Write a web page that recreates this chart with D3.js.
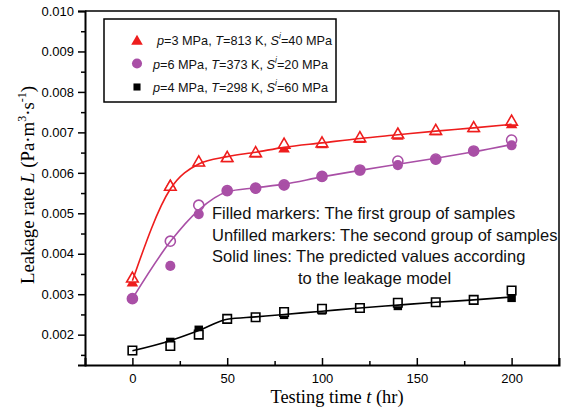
<!DOCTYPE html>
<html>
<head>
<meta charset="utf-8">
<script src="https://cdn.jsdelivr.net/npm/d3@7"></script>
<style>
  body { margin: 0; background: #fff; }
  svg { display: block; }
</style>
</head>
<body>
<svg id="chart" width="568" height="413"></svg>
<script>
// testing times (hr)
const times = [0, 20, 35, 50, 65, 80, 100, 120, 140, 160, 180, 200];

// p=3 MPa, T=813 K
const redFilled   = [0.00331, 0.00572, 0.00628, 0.00638, 0.00650, 0.00662, 0.00673, 0.00686, 0.00694, 0.00705, 0.00712, 0.00722];
const redUnfilled = [0.00342, 0.00569, 0.00629, 0.00640, 0.00652, 0.00673, 0.00676, 0.00689, 0.00698, 0.00707, 0.00714, 0.00730];
const redModel    = [0.00333, 0.00560, 0.00622, 0.00640, 0.00651, 0.00663, 0.00674, 0.00685, 0.00694, 0.00703, 0.00711, 0.00720];

// p=6 MPa, T=373 K
const purpleFilled   = [0.00289, 0.00370, 0.00498, 0.00555, 0.00561, 0.00569, 0.00590, 0.00606, 0.00619, 0.00633, 0.00653, 0.00668];
const purpleUnfilled = [0.00289, 0.00431, 0.00520, 0.00556, 0.00562, 0.00570, 0.00591, 0.00607, 0.00629, 0.00634, 0.00654, 0.00681];
const purpleModel    = [0.00289, 0.00430, 0.00508, 0.00553, 0.00563, 0.00572, 0.00590, 0.00606, 0.00621, 0.00636, 0.00652, 0.00670];

// p=4 MPa, T=298 K
const blackFilled   = [0.00160, 0.00182, 0.00212, 0.00239, 0.00243, 0.00249, 0.00260, 0.00266, 0.00271, 0.00280, 0.00286, 0.00291];
const blackUnfilled = [0.00161, 0.00172, 0.00200, 0.00239, 0.00243, 0.00256, 0.00264, 0.00266, 0.00279, 0.00280, 0.00286, 0.00309];
const blackModel    = [0.00160, 0.00185, 0.00210, 0.00238, 0.00244, 0.00250, 0.00258, 0.00266, 0.00273, 0.00280, 0.00286, 0.00293];

const xMajor = [0, 50, 100, 150, 200];
const xMinor = [25, 75, 125, 175];
const yMajor = [0.002, 0.003, 0.004, 0.005, 0.006, 0.007, 0.008, 0.009, 0.010];
const yMinor = [0.0015, 0.0025, 0.0035, 0.0045, 0.0055, 0.0065, 0.0075, 0.0085, 0.0095];

const legendLabels = [
    {p: "3", T: "813", S: "40"},
    {p: "6", T: "373", S: "20"},
    {p: "4", T: "298", S: "60"}
];
const notes = [
    "Filled markers: The first group of samples",
    "Unfilled markers: The second group of samples",
    "Solid lines: The predicted values according",
    "to the leakage model"
];

const series = [
    {color: "#ee1d1d", shape: d3.symbolTriangle, size: 58, filled: redFilled, unfilled: redUnfilled, model: redModel, filledOnTop: false},
    {color: "#a94fa6", shape: d3.symbolCircle, size: 80, filled: purpleFilled, unfilled: purpleUnfilled, model: purpleModel, filledOnTop: true},
    {color: "#000000", shape: d3.symbolSquare, size: 72, filled: blackFilled, unfilled: blackUnfilled, model: blackModel, filledOnTop: false}
];

const margin = {top: 11, right: 9, bottom: 48, left: 85};
const width = 568, height = 413;

const svg = d3.select("#chart");

const x = d3.scaleLinear()
    .domain([-25, 225])
    .range([margin.left, width - margin.right]);
const y = d3.scaleLinear()
    .domain([0.00125, 0.010])
    .range([height - margin.bottom, margin.top]);

const sans = "Liberation Sans, Arial, sans-serif";
const serif = "Liberation Serif, Times New Roman, serif";

// frame top/right
svg.append("path")
    .attr("d", `M${x(-25)},${y(0.010)}H${x(225)}V${y(0.00125)}`)
    .attr("fill", "none")
    .attr("stroke", "#000")
    .attr("stroke-width", 1.5);

// X axis (ticks inward)
const xAxisG = svg.append("g")
    .attr("transform", `translate(0,${y(0.00125)})`);
xAxisG.append("g")
    .call(d3.axisBottom(x).tickValues(xMinor).tickSize(-4).tickFormat(""))
    .call(g => g.select(".domain").remove());
xAxisG.append("g")
    .call(d3.axisBottom(x).tickValues(xMajor).tickSize(-7).tickPadding(9).tickFormat(d3.format("d")))
    .call(g => g.select(".domain").attr("stroke-width", 2));
xAxisG.selectAll("line").attr("stroke-width", 1.5);
xAxisG.selectAll("text").attr("font-family", sans).attr("font-size", 13).attr("fill", "#000");

// Y axis (ticks outward)
const yAxisG = svg.append("g")
    .attr("transform", `translate(${x(-25)},0)`);
yAxisG.append("g")
    .call(d3.axisLeft(y).tickValues(yMinor).tickSize(4).tickFormat(""))
    .call(g => g.select(".domain").remove());
yAxisG.append("g")
    .call(d3.axisLeft(y).tickValues(yMajor).tickSize(7).tickPadding(4).tickFormat(d3.format(".3f")))
    .call(g => g.select(".domain").attr("stroke-width", 2));
yAxisG.selectAll("line").attr("stroke-width", 1.5);
yAxisG.selectAll("text").attr("font-family", sans).attr("font-size", 13).attr("fill", "#000");

// axis titles
const xTitle = svg.append("text")
    .attr("x", 337)
    .attr("y", 403)
    .attr("text-anchor", "middle")
    .attr("font-family", serif)
    .attr("font-size", 18.4);
xTitle.append("tspan").text("Testing time ");
xTitle.append("tspan").attr("font-style", "italic").text("t");
xTitle.append("tspan").text(" (hr)");

const yTitle = svg.append("text")
    .attr("transform", "translate(34,185) rotate(-90)")
    .attr("text-anchor", "middle")
    .attr("font-family", serif)
    .attr("font-size", 18.8);
yTitle.append("tspan").text("Leakage rate ");
yTitle.append("tspan").attr("font-style", "italic").text("L");
yTitle.append("tspan").text(" (Pa\u00b7m");
yTitle.append("tspan").attr("font-size", 12).attr("dy", -8).text("3");
yTitle.append("tspan").attr("dy", 8).text("\u00b7s");
yTitle.append("tspan").attr("font-size", 12).attr("dy", -8).text("-1");
yTitle.append("tspan").attr("dy", 8).text(")");

// markers and model lines
const line = d3.line()
    .x((d, i) => x(times[i]))
    .y(d => y(d))
    .curve(d3.curveMonotoneX);

function drawMarkers(s, values, hollow) {
    const sym = d3.symbol().type(s.shape).size(s.size);
    const triShift = s.shape === d3.symbolTriangle ? 1.5 : 0;
    svg.append("g").selectAll("path")
        .data(values)
        .join("path")
        .attr("transform", (d, i) => `translate(${x(times[i])},${y(d) + triShift})`)
        .attr("d", sym)
        .attr("fill", hollow ? "#fff" : s.color)
        .attr("stroke", hollow ? s.color : "none")
        .attr("stroke-width", 1.6);
}

for (const s of series) {
    if (s.filledOnTop) {
        drawMarkers(s, s.unfilled, true);
        drawMarkers(s, s.filled, false);
    } else {
        drawMarkers(s, s.filled, false);
        drawMarkers(s, s.unfilled, true);
    }
    svg.append("path")
        .datum(s.model)
        .attr("fill", "none")
        .attr("stroke", s.color)
        .attr("stroke-width", 1.6)
        .attr("d", line);
}

// legend
svg.append("rect")
    .attr("x", 104).attr("y", 19)
    .attr("width", 232).attr("height", 83)
    .attr("fill", "#fff")
    .attr("stroke", "#000")
    .attr("stroke-width", 1.5);

legendLabels.forEach((lab, i) => {
    const s = series[i];
    const cy = 40 + i * 23.5;
    svg.append("path")
        .attr("transform", `translate(137,${cy + (s.shape === d3.symbolTriangle ? 1.5 : 0)})`)
        .attr("d", d3.symbol().type(s.shape).size(s.shape === d3.symbolSquare ? 50 : s.size)())
        .attr("fill", s.color);
    const t = svg.append("text")
        .attr("x", i === 0 ? 157 : 153)
        .attr("y", cy + 5)
        .attr("font-family", sans)
        .attr("font-size", 12.7)
        .attr("fill", "#111");
    t.append("tspan").attr("font-style", "italic").text("p");
    t.append("tspan").text(`=${lab.p} MPa, `);
    t.append("tspan").attr("font-style", "italic").text("T");
    t.append("tspan").text(`=${lab.T} K, `);
    t.append("tspan").attr("font-style", "italic").text("S");
    t.append("tspan").attr("font-style", "italic").attr("font-size", 8.5).attr("dy", -6).text("i");
    t.append("tspan").attr("dy", 6).text(`=${lab.S} MPa`);
});

// notes
notes.forEach((n, i) => {
    svg.append("text")
        .attr("x", i === 3 ? 374.5 : 212)
        .attr("y", 219 + i * 21.7)
        .attr("text-anchor", i === 3 ? "middle" : "start")
        .attr("font-family", sans)
        .attr("font-size", 16.5)
        .attr("fill", "#111")
        .text(n);
});
</script>
</body>
</html>
